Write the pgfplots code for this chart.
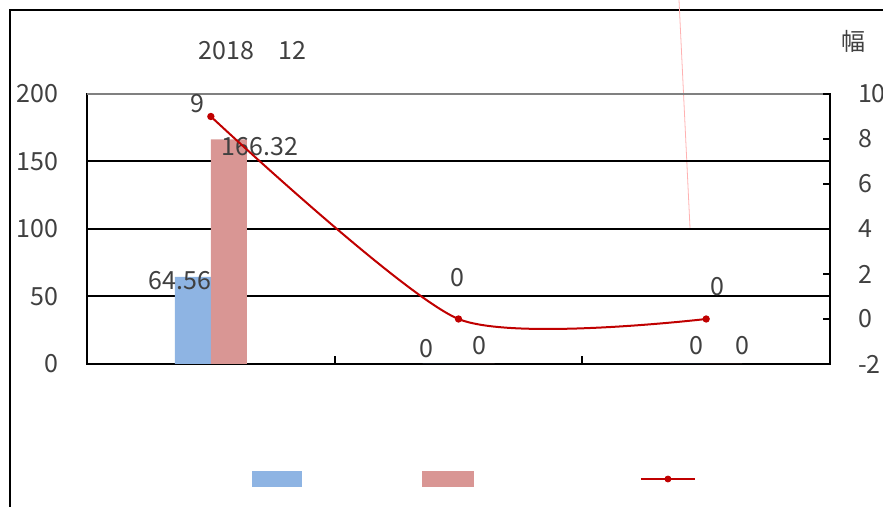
\documentclass[border=0pt]{standalone}
\usepackage{fontspec}
\setmainfont{Noto Sans CJK SC}
\usepackage{pgfplots}
\pgfplotsset{compat=1.18}
\definecolor{barblue}{RGB}{142,180,227}
\definecolor{barred}{RGB}{217,150,148}
\definecolor{linered}{RGB}{192,0,0}
\definecolor{txt}{RGB}{64,64,64}
\newcommand{\lblfont}{\fontsize{12.5}{14}\selectfont}

\begin{document}
\begin{tikzpicture}[lbl/.style={text=txt,font=\lblfont,inner sep=0pt}]
% outer chart frame (cut by the picture edge)
\draw[line width=1pt] (5pt,0pt) -- (5pt,248.5pt) -- (441.5pt,248.5pt);
\draw[red!30, line width=0.4pt] (339.5pt,253.5pt) -- (345pt,139.5pt);
\node[lbl] at (126.3pt,228pt) {2018\hspace{12pt}12};
\node[text=txt,font=\fontsize{12}{14}\selectfont,inner sep=0pt] at (426.5pt,233pt) {幅};

% bars, left scale
\begin{axis}[
  at={(43.5pt,71.5pt)}, anchor=south west, scale only axis,
  width=371.5pt, height=135pt,
  xmin=-0.5, xmax=2.5, ymin=0, ymax=200,
  ybar=0pt, bar width=18pt, clip=false,
  xtick={0.5,1.5}, xticklabels={}, xtick pos=bottom,
  ytick={0,50,100,150,200}, ytick pos=left,
  tick align=inside, major tick length=4pt,
  tick style={black, line width=1pt},
  axis line style={black, line width=1pt},
  ymajorgrids, grid style={black, line width=1pt},
  /pgf/number format/assume math mode=true,
  yticklabel style={text=txt, font=\lblfont, xshift=-11pt},
  legend style={at={(0.222,-0.426)}, anchor=west, draw=none, fill=none,
    inner sep=0pt, outer sep=0pt, nodes={inner sep=0pt},
    /tikz/every even column/.append style={column sep=0pt}},
  legend columns=-1,
]
\addplot[fill=barblue, draw=none,
  legend image code/.code={\fill[barblue] (0pt,-4pt) rectangle (25pt,4pt);}]
  coordinates {(0,64.56) (1,0) (2,0)};
\addlegendentry{\hspace*{60pt}}
\addplot[fill=barred, draw=none,
  legend image code/.code={\fill[barred] (0pt,-4pt) rectangle (26pt,4pt);}]
  coordinates {(0,166.32) (1,0) (2,0)};
\addlegendentry{\hspace*{83pt}}
\addlegendimage{legend image code/.code={
  \draw[linered,line width=1pt] (0pt,0pt) -- (27pt,0pt);
  \fill[linered] (13.5pt,0pt) circle (1.5pt);}}
\addlegendentry{}
\draw[gray, line width=1pt] (rel axis cs:0,1) -- (rel axis cs:1,1);
\node[lbl] at (axis cs:-0.124,61.5) {64.56};
\node[lbl] at (axis cs:0.199,160.7) {166.32};
\node[lbl] at (axis cs:0.869,11.5) {0};
\node[lbl] at (axis cs:1.085,13.7) {0};
\node[lbl] at (axis cs:1.959,13.3) {0};
\node[lbl] at (axis cs:2.145,13.3) {0};
\end{axis}

% line, right scale
\begin{axis}[
  at={(43.5pt,71.5pt)}, anchor=south west, scale only axis,
  width=371.5pt, height=135pt,
  xmin=-0.5, xmax=2.5, ymin=-2, ymax=10, clip=false,
  axis x line=none, axis y line*=right,
  ytick={-2,0,...,10},
  tick align=inside, major tick length=3.5pt,
  tick style={black, line width=1pt},
  axis line style={black, line width=1pt, -},
  /pgf/number format/assume math mode=true,
  yticklabel style={text=txt, font=\lblfont, xshift=10.5pt},
]
\addplot[linered, line width=1pt, smooth, tension=0.4,
  mark=*, mark size=1.3pt, mark options={fill=linered, draw=linered}]
  coordinates {(0,9) (1,0) (2,0)};
\node[lbl] at (axis cs:-0.056,9.56) {9};
\node[lbl] at (axis cs:0.994,1.84) {0};
\node[lbl] at (axis cs:2.044,1.42) {0};
\end{axis}
\pgfresetboundingbox
\path[use as bounding box] (0pt,0pt) rectangle (441.5pt,253.5pt);
\end{tikzpicture}
\end{document}
